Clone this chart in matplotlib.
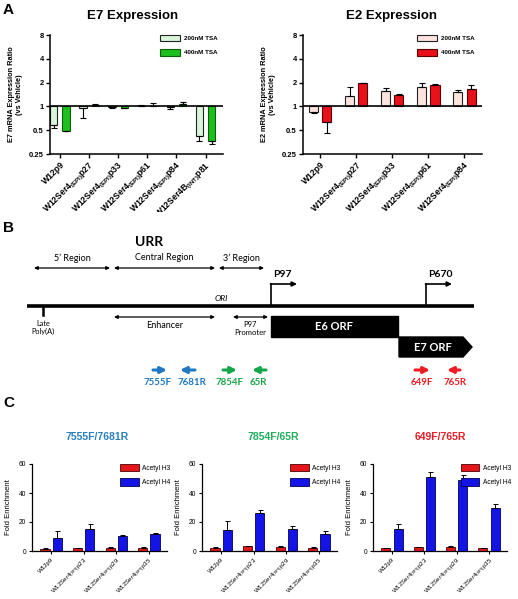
import matplotlib.pyplot as plt
import numpy as np
from matplotlib.patches import Patch, Rectangle, Polygon

plt.rcParams["font.family"] = ["Liberation Sans", "DejaVu Sans"]

# ---- panel A data (ratio vs vehicle, error end points) ----
e7_lines = ["W12p9",
            r"W12Ser4$_{\mathregular{(EPI)}}$p27",
            r"W12Ser4$_{\mathregular{(EPI)}}$p33",
            r"W12Ser4$_{\mathregular{(EPI)}}$p61",
            r"W12Ser4$_{\mathregular{(EPI)}}$p84",
            r"W12Ser4B$_{\mathregular{(INT)}}$p81"]
e7_200 = [0.58, 0.95, 0.97, 1.02, 0.97, 0.42]
e7_200_end = [0.54, 0.71, 0.955, 1.04, 0.93, 0.37]
e7_400 = [0.49, 1.04, 0.96, 1.0, 1.08, 0.37]
e7_400_end = [0.49, 1.06, 0.95, 1.1, 1.13, 0.33]

e2_lines = e7_lines[:5]
e2_200 = [0.85, 1.34, 1.57, 1.75, 1.51]
e2_200_end = [0.82, 1.78, 1.70, 1.96, 1.62]
e2_400 = [0.63, 1.96, 1.41, 1.87, 1.66]
e2_400_end = [0.46, 1.97, 1.44, 1.91, 1.84]

log_ticks = [0.25, 0.5, 1, 2, 4, 8]
log_labels = ["0.25", "0.5", "1", "2", "4", "8"]

# ---- panel C data (fold enrichment, SEM) ----
chip_lines = ["W12p9",
              r"W12Ser4$_{\mathregular{(EPI)}}$p23",
              r"W12Ser4$_{\mathregular{(EPI)}}$p29",
              r"W12Ser4$_{\mathregular{(EPI)}}$p35"]
c1_h3 = [1.5, 2.1, 2.2, 2.0]
c1_h3_err = [0.5, 0.3, 0.3, 0.9]
c1_h4 = [9.2, 15.5, 10.6, 12.0]
c1_h4_err = [4.5, 3.1, 0.2, 0.5]
c2_h3 = [2.4, 3.2, 3.0, 1.9]
c2_h3_err = [0.3, 0.3, 0.3, 0.6]
c2_h4 = [14.8, 26.1, 15.2, 11.8]
c2_h4_err = [6.1, 2.3, 2.3, 2.1]
c3_h3 = [2.1, 2.6, 3.0, 2.0]
c3_h3_err = [0.3, 0.3, 0.3, 0.2]
c3_h4 = [15.0, 51.2, 48.8, 29.4]
c3_h4_err = [3.4, 3.2, 3.6, 2.7]

W, H = 518, 599
fig = plt.figure(figsize=(W / 100, H / 100), dpi=100)


def px_axes(left, top, right, bottom, **kw):
    return fig.add_axes([left / W, 1 - bottom / H, (right - left) / W, (bottom - top) / H], **kw)


def log_bars(ax, x, vals, ends, color, edge, width):
    vals = np.array(vals)
    ends = np.array(ends)
    ax.bar(x, vals - 1, bottom=1, width=width, color=color, edgecolor=edge, lw=0.8, zorder=2)
    lo = np.where(ends < vals, vals - ends, 0)
    hi = np.where(ends > vals, ends - vals, 0)
    ax.errorbar(x, vals, yerr=[lo, hi], fmt="none", ecolor="k", elinewidth=0.8,
                capsize=2, capthick=0.8, zorder=3)


def expression_panel(ax, labels, v200, e200, v400, e400, c200, c400, edge, off, xlim, gene):
    x = np.arange(len(labels))
    log_bars(ax, x - off, v200, e200, c200, "#222222", 0.25)
    log_bars(ax, x + off, v400, e400, c400, edge, 0.25)
    ax.axhline(1, color="k", lw=1.2, zorder=4)
    ax.set_yscale("log", base=2)
    ax.set_ylim(0.25, 8)
    ax.set_yticks(log_ticks)
    ax.set_yticklabels(log_labels, fontsize=5.5, fontweight="bold")
    ax.minorticks_off()
    ax.set_xlim(*xlim)
    ax.set_xticks(x)
    ax.set_xticklabels(labels, rotation=45, ha="right", rotation_mode="anchor",
                       fontsize=6.2, fontweight="bold")
    for s in ["top", "right"]:
        ax.spines[s].set_visible(False)
    for s in ["left", "bottom"]:
        ax.spines[s].set_linewidth(1.1)
    ax.tick_params(direction="out", length=3, width=1, pad=1.5)
    ax.set_ylabel(f"{gene} mRNA Expression Ratio\n(vs Vehicle)", fontsize=5.3,
                  fontweight="bold", labelpad=4)
    handles = [Patch(facecolor=c200, edgecolor="#222222", lw=0.8, label="200nM TSA"),
               Patch(facecolor=c400, edgecolor=edge, lw=0.8, label="400nM TSA")]
    ax.legend(handles=handles, loc="upper left", bbox_to_anchor=(0.62, 1.03), frameon=False,
              prop={"size": 4.5, "weight": "bold"}, handlelength=3.2, handleheight=1.3,
              labelspacing=1.2, handletextpad=0.6, borderpad=0)


axA1 = px_axes(50, 35, 223, 154)
expression_panel(axA1, e7_lines, e7_200, e7_200_end, e7_400, e7_400_end,
                 "#d8f5d8", "#1cbf1c", "#0d5f0d", 0.21, (-0.34, 5.6), "E7")
axA2 = px_axes(303, 35, 482, 154)
expression_panel(axA2, e2_lines, e2_200, e2_200_end, e2_400, e2_400_end,
                 "#fde2de", "#e8101a", "#5a0000", 0.185, (-0.48, 4.49), "E2")

fig.text(3 / W, 1 - 10 / H, "A", fontsize=11, fontweight="bold", va="center")
fig.text(133 / W, 1 - 16 / H, "E7 Expression", fontsize=9.5, fontweight="bold",
         ha="center", va="center")
fig.text(392 / W, 1 - 16 / H, "E2 Expression", fontsize=9.5, fontweight="bold",
         ha="center", va="center")

# ---- panel B schematic (pixel coordinates) ----
axB = px_axes(0, 212, W, 392, zorder=5)
axB.set_xlim(0, W)
axB.set_ylim(392, 212)
axB.set_xticks([])
axB.set_yticks([])
for s in axB.spines.values():
    s.set_visible(False)

bf = ["Lato", "DejaVu Sans"]
axB.text(3, 228, "B", fontsize=11, fontweight="bold", va="center", family="Liberation Sans")
axB.text(135, 242, "URR", fontsize=10, fontweight="bold", va="center", family=bf)


def dbl_arrow(x0, x1, y):
    axB.annotate("", xy=(x1, y), xytext=(x0, y),
                 arrowprops=dict(arrowstyle="<|-|>", lw=0.9, color="k", shrinkA=0, shrinkB=0,
                                 mutation_scale=5))


regions = [("5\u2019 Region", 34, 110), ("Central Region", 114, 215), ("3\u2019 Region", 219, 264)]
for name, x0, x1 in regions:
    dbl_arrow(x0, x1, 268)
    axB.text((x0 + x1) / 2, 258, name, fontsize=6.5, ha="center", va="center", family=bf)

axB.plot([27, 474], [306.5, 306.5], color="k", lw=2.6, solid_capstyle="butt")
axB.plot([43, 43], [306, 315], color="k", lw=1.8)
axB.text(43, 320, "Late\nPoly(A)", fontsize=5.3, ha="center", va="top", family=bf, linespacing=1.1)
axB.text(221, 299, "ORI", fontsize=6, style="italic", ha="center", va="center", family=bf)

dbl_arrow(114, 215, 317)
axB.text(165, 326, "Enhancer", fontsize=6.5, ha="center", va="center", family=bf)
dbl_arrow(233, 268, 317)
axB.text(250, 321, "P97\nPromoter", fontsize=5.5, ha="center", va="top", family=bf, linespacing=1.1)

for name, px in [("P97", 271), ("P670", 426)]:
    axB.plot([px, px], [306, 284], color="k", lw=1.2)
    axB.annotate("", xy=(px + 26, 284), xytext=(px - 0.5, 284),
                 arrowprops=dict(arrowstyle="-|>", lw=1.2, color="k", shrinkA=0, shrinkB=0,
                                 mutation_scale=7))
    axB.text(px + 2, 275, name, fontsize=7.5, fontweight="bold", va="center", family=bf)

axB.add_patch(Rectangle((271, 316), 127, 21, color="k"))
axB.text(334, 327, "E6 ORF", fontsize=8, fontweight="bold", color="w", ha="center",
         va="center", family=bf)
axB.add_patch(Polygon([(399, 337), (463, 337), (472, 347), (463, 357), (399, 357)], color="k"))
axB.text(433, 347.5, "E7 ORF", fontsize=8, fontweight="bold", color="w", ha="center",
         va="center", family=bf)

primers = [("7555F", 153, 167, 158, "#1f78c1"), ("7681R", 195, 180, 192, "#1f78c1"),
           ("7854F", 223, 237, 230, "#16a64a"), ("65R", 266, 252, 258, "#16a64a"),
           ("649F", 415, 430, 422, "#ee1c24"), ("765R", 460, 447, 455, "#ee1c24")]
for name, tail, tip, lx, col in primers:
    axB.annotate("", xy=(tip, 370), xytext=(tail, 370),
                 arrowprops=dict(arrowstyle="-|>", lw=2.2, color=col, shrinkA=0, shrinkB=0,
                                 mutation_scale=9))
    axB.text(lx, 383, name, fontsize=7, fontweight="bold", color=col, ha="center",
             va="center", family=bf)

# ---- panel C ChIP ----
fig.text(3 / W, 1 - 403 / H, "C", fontsize=11, fontweight="bold", va="center")


def chip_panel(ax, h3, h3e, h4, h4e, title, tcol, tx):
    x = np.arange(len(chip_lines))
    zeros = np.zeros(len(x))
    ax.bar(x - 0.19, h3, 0.28, color="#e3161c", edgecolor="#4a0000", lw=0.6, zorder=2)
    ax.errorbar(x - 0.19, h3, yerr=[zeros, h3e], fmt="none", ecolor="k", elinewidth=0.7,
                capsize=1.8, capthick=0.7, zorder=3)
    ax.bar(x + 0.19, h4, 0.28, color="#1414e6", edgecolor="#000050", lw=0.6, zorder=2)
    ax.errorbar(x + 0.19, h4, yerr=[zeros, h4e], fmt="none", ecolor="k", elinewidth=0.7,
                capsize=1.8, capthick=0.7, zorder=3)
    ax.set_ylim(0, 60)
    ax.set_yticks([0, 20, 40, 60])
    ax.set_xlim(-0.59, 3.56)
    ax.set_xticks(x)
    ax.set_xticklabels(chip_lines, rotation=45, ha="right", rotation_mode="anchor", fontsize=4.4)
    for s in ["top", "right"]:
        ax.spines[s].set_visible(False)
    for s in ["left", "bottom"]:
        ax.spines[s].set_linewidth(0.9)
    ax.tick_params(axis="both", direction="out", length=2.5, width=0.8, pad=1.5)
    ax.tick_params(axis="y", labelsize=4.8)
    ax.set_ylabel("Fold Enrichment", fontsize=5.5, labelpad=5)
    handles = [Patch(facecolor="#e3161c", edgecolor="#4a0000", lw=0.6, label="Acetyl H3"),
               Patch(facecolor="#1414e6", edgecolor="#000050", lw=0.6, label="Acetyl H4")]
    ax.legend(handles=handles, loc="upper left", bbox_to_anchor=(0.63, 1.04), frameon=False,
              fontsize=4.8, handlelength=2.8, handleheight=1.3, labelspacing=1.0,
              handletextpad=0.5, borderpad=0)
    fig.text(tx / W, 1 - 437 / H, title, fontsize=7.5, fontweight="bold", color=tcol,
             ha="center", va="center")


axC1 = px_axes(32, 464, 167, 551)
chip_panel(axC1, c1_h3, c1_h3_err, c1_h4, c1_h4_err, "7555F/7681R", "#2a7fc1", 97)
axC2 = px_axes(202, 464, 337, 551)
chip_panel(axC2, c2_h3, c2_h3_err, c2_h4, c2_h4_err, "7854F/65R", "#1fae5a", 273)
axC3 = px_axes(373, 464, 507, 551)
chip_panel(axC3, c3_h3, c3_h3_err, c3_h4, c3_h4_err, "649F/765R", "#ee1c24", 440)

fig.savefig("out.png", dpi=100)
